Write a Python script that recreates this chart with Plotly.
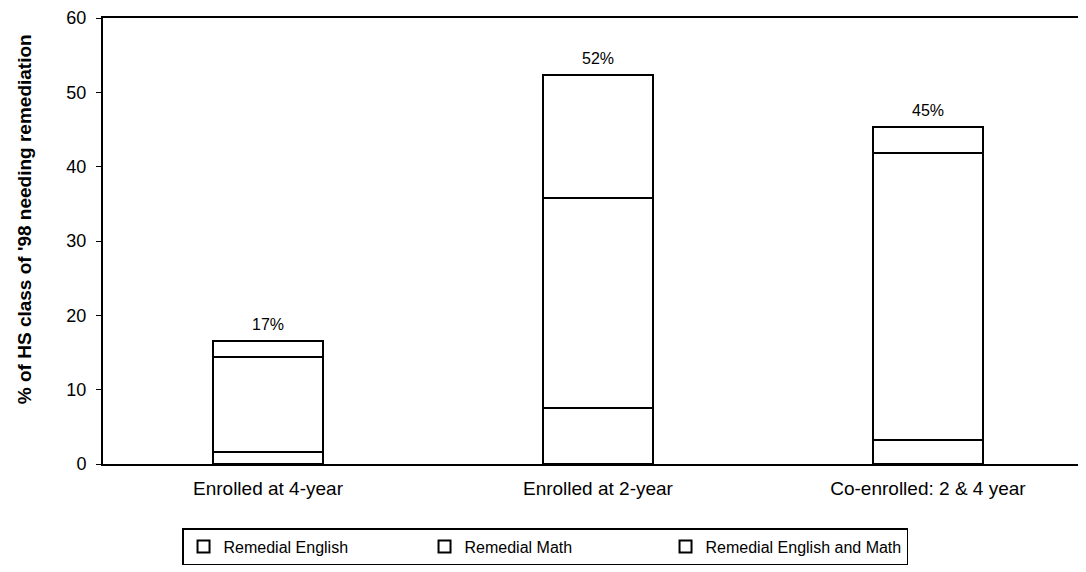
import plotly.graph_objects as go

categories = ["Enrolled at 4-year", "Enrolled at 2-year", "Co-enrolled: 2 & 4 year"]
remedial_english = [1.6, 7.5, 3.2]
remedial_math = [12.8, 28.3, 38.6]
remedial_both = [2.2, 16.5, 3.5]
total_labels = ["17%", "52%", "45%"]

series = [
    ("Remedial English", remedial_english),
    ("Remedial Math", remedial_math),
    ("Remedial English and Math", remedial_both),
]

fig = go.Figure()
for name, vals in series:
    fig.add_trace(go.Bar(
        x=categories, y=vals, name=name,
        marker=dict(color="white", line=dict(color="black", width=2)),
    ))

totals = [a + b + c for a, b, c in zip(remedial_english, remedial_math, remedial_both)]
for cat, t, lab in zip(categories, totals, total_labels):
    fig.add_annotation(x=cat, y=t, text=lab, showarrow=False, yanchor="bottom",
                       yshift=6, font=dict(size=16, color="black"))

fig.add_annotation(xref="paper", yref="paper", x=-0.0925, y=0.548, textangle=-90,
                   text="<b>% of HS class of '98 needing remediation</b>",
                   showarrow=False, font=dict(size=19, color="black"))

fig.update_layout(
    width=1086, height=572,
    barmode="stack", bargap=2/3,
    plot_bgcolor="white", paper_bgcolor="white",
    margin=dict(l=95, r=8, t=10, b=116, autoexpand=False),
    font=dict(family="Liberation Sans, Arial, sans-serif", color="black"),
    showlegend=True,
    legend=dict(orientation="h", x=0.0804, xanchor="left", y=-0.1435, yanchor="top",
                bordercolor="black", borderwidth=1.5, font=dict(size=16),
                itemwidth=30, traceorder="normal", entrywidth=196),
    xaxis=dict(range=[-0.5, 2.479], showline=True, linecolor="black", linewidth=2,
               mirror=True, ticks="", tickfont=dict(size=19), showgrid=False,
               automargin=False, ticklabelstandoff=6),
    yaxis=dict(range=[0, 60], dtick=10, showline=True, linecolor="black", linewidth=2,
               ticks="outside", ticklen=5, tickcolor="black", tickfont=dict(size=18),
               showgrid=False, zeroline=False, automargin=False,
               ticklabeloverflow="allow", ticklabelstandoff=6),
)
fig.write_html("out.html")
